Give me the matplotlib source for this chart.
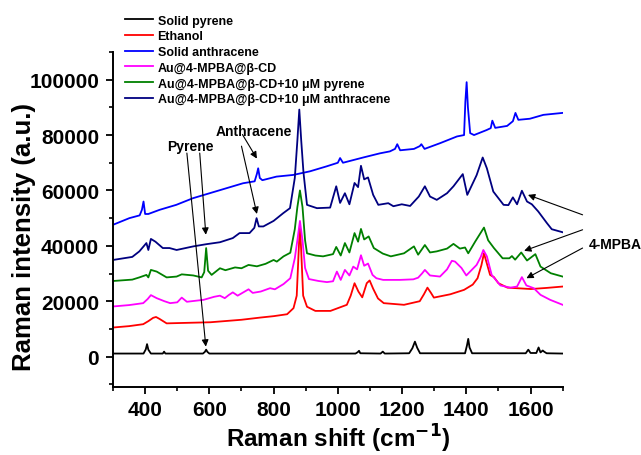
import matplotlib
matplotlib.use('Agg')
import matplotlib.pyplot as plt
from matplotlib.ticker import MultipleLocator

plt.rcParams['font.family'] = ['Liberation Sans', 'DejaVu Sans']
plt.rcParams['font.weight'] = 'bold'

# ── Spectra (Raman shift, intensity) ─────────────────────────────────────────
pyr_x = [300, 395, 402, 406, 410, 418, 455, 459, 463, 580, 586, 590, 594, 600,
         1055, 1062, 1066, 1070, 1133, 1140, 1146, 1222, 1232, 1240, 1247, 1256,
         1396, 1402, 1406, 1410, 1418, 1585, 1593, 1600, 1618, 1625, 1631, 1638,
         1642, 1650, 1700]
pyr_y = [1100, 1100, 2600, 4500, 2500, 1100, 1100, 1800, 1100, 1100, 1700, 2500,
         1700, 1100, 1100, 1600, 2100, 1200, 1100, 1800, 1100, 1200, 3000, 5400,
         3200, 1200, 1200, 4000, 6400, 3300, 1200, 1200, 2500, 1300, 1300, 3300,
         1500, 2200, 1800, 1200, 1100]

eth_x = [300, 350, 394, 410, 425, 434, 445, 467, 500, 603, 700, 759, 800, 842,
         862, 872, 878, 882, 886, 892, 904, 930, 977, 1028, 1040, 1052, 1064,
         1076, 1090, 1099, 1110, 1125, 1143, 1206, 1255, 1268, 1279, 1290, 1299,
         1350, 1393, 1420, 1435, 1447, 1455, 1463, 1474, 1486, 1500, 1528, 1601,
         1650, 1700]
eth_y = [10500, 11000, 11700, 12800, 14000, 14300, 13600, 12000, 12100, 12400,
         13300, 14100, 14600, 15300, 17500, 22000, 38000, 47500, 38000, 22000,
         18000, 16500, 16500, 18700, 22000, 26500, 23500, 21400, 26500, 27500,
         24500, 21000, 19300, 18700, 20000, 22500, 24900, 23000, 21300, 22500,
         24100, 26000, 28300, 33000, 37300, 34000, 29500, 28700, 26500, 24900,
         24400, 24800, 25300]

sa_x = [300, 351, 383, 390, 395, 400, 410, 445, 497, 549, 601, 653, 705, 741,
        748, 752, 757, 765, 809, 861, 913, 965, 1000, 1007, 1016, 1079, 1131,
        1162, 1178, 1185, 1194, 1237, 1255, 1260, 1270, 1319, 1371, 1393, 1397,
        1401, 1405, 1412, 1424, 1463, 1476, 1481, 1490, 1527, 1545, 1553, 1562,
        1598, 1640, 1700]
sa_y = [47600, 50000, 51000, 53000, 56000, 51500, 51500, 53000, 54800, 57200,
        59000, 60800, 62600, 63300, 66000, 68000, 64500, 63700, 65000, 65600,
        66900, 68700, 70000, 71700, 70000, 71900, 73400, 74100, 75000, 76700,
        74500, 75000, 76000, 76700, 75000, 77100, 79500, 80000, 92000, 99100,
        90000, 80700, 80000, 81800, 82500, 85200, 82600, 83300, 85000, 88000,
        85500, 85900, 87300, 88000]

cd_x = [300, 350, 394, 408, 418, 436, 460, 478, 500, 514, 530, 582, 615, 633,
        648, 660, 673, 688, 722, 735, 760, 789, 804, 831, 852, 866, 874, 882,
        890, 898, 910, 940, 966, 985, 997, 1009, 1022, 1036, 1048, 1060, 1072,
        1082, 1094, 1108, 1120, 1141, 1193, 1235, 1250, 1262, 1271, 1287, 1318,
        1340, 1355, 1365, 1385, 1400, 1432, 1445, 1453, 1464, 1479, 1506, 1537,
        1558, 1573, 1587, 1610, 1631, 1661, 1700]
cd_y = [18100, 18600, 19300, 20800, 22200, 21100, 20000, 19300, 19600, 21300,
        19800, 20500, 21600, 22000, 21100, 22200, 23200, 22000, 24300, 23000,
        23500, 24700, 24300, 26200, 28300, 35500, 42000, 49000, 42000, 32000,
        28000, 27300, 26900, 27200, 30700, 27700, 31300, 29300, 32500, 31500,
        36600, 32800, 33600, 29500, 28300, 27700, 27700, 27900, 28500, 30000,
        31300, 29300, 28900, 31500, 34600, 34300, 32000, 29300, 33100, 36000,
        38500, 36200, 29500, 25700, 24900, 25300, 28700, 25700, 24700, 22300,
        20500, 18700]

py_x = [300, 360, 382, 404, 410, 418, 436, 467, 498, 514, 550, 576, 584, 590,
        596, 607, 633, 650, 680, 700, 722, 748, 775, 800, 810, 831, 852, 866,
        874, 882, 890, 898, 904, 930, 954, 985, 995, 1009, 1022, 1036, 1052,
        1063, 1072, 1082, 1096, 1112, 1140, 1165, 1206, 1237, 1250, 1271, 1287,
        1308, 1340, 1360, 1380, 1396, 1406, 1428, 1455, 1468, 1486, 1513, 1534,
        1542, 1552, 1571, 1589, 1615, 1631, 1663, 1700]
py_y = [27300, 27800, 28600, 29500, 28600, 31300, 30700, 28600, 28900, 29700,
        29300, 28600, 30500, 39200, 31000, 29500, 31900, 31200, 32200, 31900,
        33100, 32600, 33500, 34900, 34300, 36200, 37500, 46000, 54000, 60000,
        54000, 42000, 37300, 36500, 36200, 37000, 39600, 36500, 41000, 37600,
        44600, 41500, 46100, 42300, 43400, 39200, 37200, 36200, 37300, 39800,
        36800, 40300, 37600, 38000, 39000, 40700, 39000, 39400, 37300, 41600,
        46600, 42000, 39200, 35500, 35500, 36300, 35000, 37600, 34700, 37000,
        32500, 30100, 28900]

an_x = [300, 360, 382, 404, 410, 418, 432, 455, 476, 498, 550, 591, 633, 673,
        694, 725, 740, 747, 754, 768, 800, 830, 851, 866, 874, 880, 886, 893,
        904, 935, 976, 995, 1007, 1022, 1036, 1052, 1063, 1072, 1082, 1094, 1110,
        1126, 1157, 1173, 1199, 1225, 1252, 1271, 1287, 1308, 1340, 1360, 1389,
        1403, 1432, 1451, 1464, 1484, 1516, 1531, 1545, 1558, 1573, 1589, 1604,
        1624, 1651, 1666, 1700]
an_y = [34900, 36000, 38000, 41000, 38500, 42500, 41500, 39200, 39200, 38500,
        39800, 40600, 41300, 42800, 44600, 44600, 46500, 50000, 47000, 47000,
        49000, 51800, 53600, 64500, 78000, 89200, 78000, 66500, 54800, 53600,
        53800, 61500, 55500, 59000, 55000, 62700, 61200, 68900, 64000, 64700,
        58400, 54800, 55400, 54300, 55000, 54400, 57800, 61500, 57800, 56600,
        59000, 61500, 65900, 58400, 65500, 71900, 68000, 59600, 54800, 54700,
        57500, 55000, 59900, 56000, 55000, 52400, 48200, 46000, 44900]

labels = ['Solid pyrene', 'Ethanol', 'Solid anthracene', 'Au@4-MPBA@β-CD',
          'Au@4-MPBA@β-CD+10 μM pyrene', 'Au@4-MPBA@β-CD+10 μM anthracene']
colors = ['#000000', '#ff0000', '#0000ff', '#ff00ff', '#008000', '#000080']
series = [(pyr_x, pyr_y), (eth_x, eth_y), (sa_x, sa_y),
          (cd_x, cd_y), (py_x, py_y), (an_x, an_y)]

fig = plt.figure(figsize=(6.41, 4.56), dpi=100)
ax = fig.add_axes([0.1763, 0.149, 0.7015, 0.7348])

handles = []
for (xs, ys), c, lbl in zip(series, colors, labels):
    h, = ax.plot(xs, ys, color=c, lw=1.3, label=lbl)
    handles.append(h)

ax.set_xlim(300, 1700)
ax.set_ylim(-11000, 110000)
ax.spines['top'].set_visible(False)
ax.spines['right'].set_visible(False)
for s in ('left', 'bottom'):
    ax.spines[s].set_linewidth(1.4)

ax.xaxis.set_major_locator(MultipleLocator(200))
ax.xaxis.set_minor_locator(MultipleLocator(100))
ax.yaxis.set_major_locator(MultipleLocator(20000))
ax.yaxis.set_minor_locator(MultipleLocator(10000))
ax.tick_params(which='major', direction='out', length=5, width=1.3,
               labelsize=15)
ax.tick_params(axis='x', which='major', pad=4)
ax.tick_params(axis='y', which='major', pad=5)
ax.tick_params(which='minor', direction='out', length=3, width=1.2)
ax.set_xticks([400, 600, 800, 1000, 1200, 1400, 1600])
for t in ax.get_xticklabels() + ax.get_yticklabels():
    t.set_fontweight('bold')

ax.set_xlabel('Raman shift (cm$^{\\mathbf{-1}}$)', fontsize=17.5, fontweight='bold')
ax.xaxis.set_label_coords(0.5, -0.105)
ax.set_ylabel('Raman intensity (a.u.)', fontsize=18.5, fontweight='bold')
ax.yaxis.set_label_coords(-0.171, 0.452)

# ── Annotations ──────────────────────────────────────────────────────────────
ap = dict(arrowstyle='-|>', color='k', lw=0.8, mutation_scale=10,
          shrinkA=0, shrinkB=0)
ax.text(540, 76000, 'Pyrene', ha='center', va='center', fontsize=10,
        fontweight='bold')
ax.annotate('', xy=(589, 3600), xytext=(530, 73500), arrowprops=ap)
ax.annotate('', xy=(589, 44000), xytext=(570, 73500), arrowprops=ap)

ax.text(737, 81500, 'Anthracene', ha='center', va='center', fontsize=10,
        fontweight='bold')
ax.annotate('', xy=(748, 71500), xytext=(703, 80200), arrowprops=ap)
ax.annotate('', xy=(748, 51500), xytext=(700, 76000), arrowprops=ap)

ax.text(1780, 40600, '4-MPBA', ha='left', va='center', fontsize=10,
        fontweight='bold', clip_on=False)
for tip, tail in [((1592, 58400), (1762, 51200)),
                  ((1580, 38200), (1762, 45800)),
                  ((1587, 28300), (1762, 39200))]:
    ax.annotate('', xy=tip, xytext=tail, arrowprops=ap, annotation_clip=False)

fig.legend(handles=handles, loc='upper left', bbox_to_anchor=(125 / 641, 0.966),
           frameon=False, handlelength=2.2, handletextpad=0.4,
           labelspacing=0.3, borderpad=0, borderaxespad=0,
           prop={'weight': 'bold', 'size': 9})

fig.savefig('out.png', dpi=100)
